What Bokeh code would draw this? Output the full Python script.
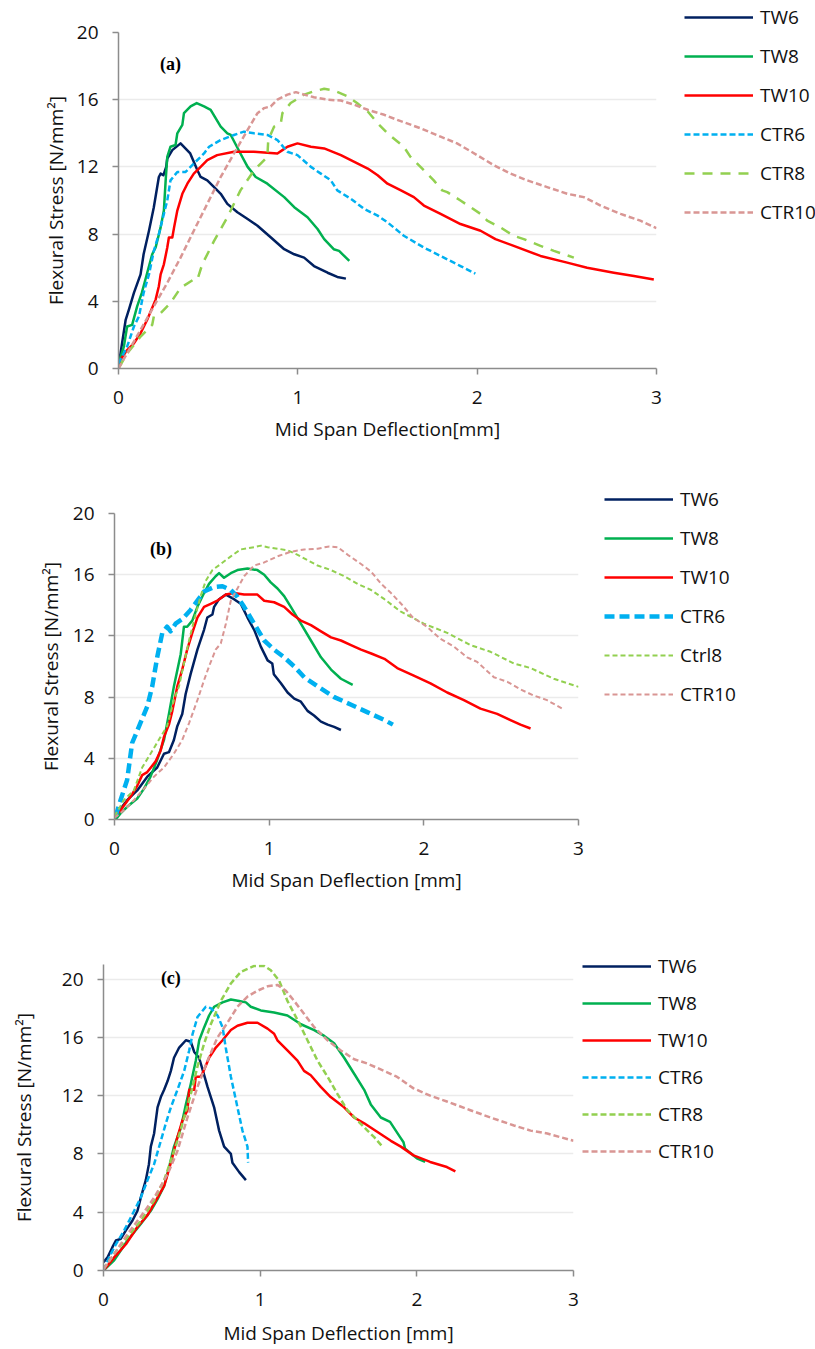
from bokeh.plotting import figure
from bokeh.models import Range1d, Legend, LegendItem, Label, FixedTicker
from bokeh.embed import file_html
from bokeh.resources import INLINE

# ---------------- Panel (a) ----------------
a_tw6_x = [0, 0.004, 0.04, 0.058, 0.086, 0.123, 0.14, 0.17, 0.197, 0.225, 0.235, 0.25, 0.266, 0.272, 0.30, 0.346, 0.40, 0.44, 0.458, 0.495, 0.533, 0.57, 0.607, 0.663, 0.72, 0.775, 0.85, 0.924, 0.98, 1.035, 1.09, 1.166, 1.22, 1.268]
a_tw6_y = [0.3, 0.4, 2.9, 3.5, 4.5, 5.6, 6.8, 8.2, 9.6, 11.4, 11.6, 11.5, 12.0, 12.5, 13.0, 13.4, 12.8, 11.8, 11.4, 11.2, 10.8, 10.4, 9.8, 9.3, 8.9, 8.5, 7.8, 7.1, 6.8, 6.6, 6.1, 5.7, 5.45, 5.35]
a_tw8_x = [0, 0.03, 0.048, 0.076, 0.104, 0.13, 0.15, 0.188, 0.207, 0.235, 0.253, 0.263, 0.272, 0.29, 0.318, 0.328, 0.356, 0.365, 0.402, 0.436, 0.477, 0.514, 0.57, 0.607, 0.626, 0.68, 0.72, 0.765, 0.83, 0.924, 0.98, 1.054, 1.11, 1.147, 1.20, 1.23, 1.287]
a_tw8_y = [0.3, 1.3, 2.5, 2.6, 3.7, 4.5, 5.3, 6.8, 7.2, 8.4, 9.4, 11.2, 12.6, 13.2, 13.3, 14.0, 14.5, 15.2, 15.6, 15.8, 15.6, 15.4, 14.4, 14.0, 13.9, 12.8, 12.0, 11.4, 11.0, 10.2, 9.6, 9.0, 8.3, 7.7, 7.1, 7.0, 6.4]
a_tw10_x = [0, 0.01, 0.048, 0.086, 0.123, 0.16, 0.207, 0.225, 0.235, 0.253, 0.272, 0.281, 0.30, 0.31, 0.328, 0.356, 0.384, 0.42, 0.458, 0.495, 0.55, 0.644, 0.756, 0.886, 0.914, 0.942, 0.998, 1.073, 1.147, 1.24, 1.315, 1.39, 1.445, 1.50, 1.575, 1.647, 1.703, 1.796, 1.907, 2.019, 2.102, 2.204, 2.353, 2.502, 2.613, 2.762, 2.874, 2.985]
a_tw10_y = [0, 0.5, 1.1, 1.5, 2.1, 2.9, 4.1, 4.9, 5.6, 6.2, 7.2, 7.8, 7.8, 8.4, 9.4, 10.4, 11.0, 11.6, 12.0, 12.4, 12.7, 12.9, 12.9, 12.8, 13.0, 13.2, 13.4, 13.2, 13.1, 12.7, 12.3, 11.9, 11.5, 11.0, 10.6, 10.2, 9.7, 9.2, 8.6, 8.2, 7.7, 7.3, 6.7, 6.3, 6.0, 5.7, 5.5, 5.3]
a_ctr6_x = [0, 0.048, 0.086, 0.114, 0.14, 0.17, 0.197, 0.225, 0.253, 0.272, 0.29, 0.328, 0.374, 0.42, 0.477, 0.505, 0.57, 0.644, 0.70, 0.756, 0.83, 0.886, 0.942, 0.998, 1.073, 1.128, 1.184, 1.22, 1.296, 1.37, 1.445, 1.50, 1.591, 1.703, 1.833, 1.907, 1.99]
a_ctr6_y = [0.3, 1.3, 2.5, 3.1, 4.5, 5.6, 7.0, 8.0, 9.2, 10.0, 11.2, 11.7, 11.7, 12.2, 12.8, 13.2, 13.6, 13.9, 14.1, 14.0, 13.9, 13.6, 12.9, 12.7, 12.0, 11.6, 11.2, 10.6, 10.1, 9.5, 9.1, 8.7, 7.9, 7.2, 6.5, 6.1, 5.65]
a_ctr8_x = [0, 0.048, 0.123, 0.188, 0.197, 0.235, 0.29, 0.346, 0.42, 0.44, 0.467, 0.533, 0.607, 0.68, 0.756, 0.793, 0.83, 0.835, 0.868, 0.905, 0.914, 0.96, 1.035, 1.09, 1.147, 1.20, 1.278, 1.33, 1.39, 1.445, 1.50, 1.557, 1.591, 1.628, 1.684, 1.758, 1.805, 1.833, 1.907, 2.019, 2.056, 2.13, 2.204, 2.26, 2.353, 2.428, 2.539]
a_ctr8_y = [0, 0.9, 1.9, 2.6, 3.1, 3.3, 3.9, 4.8, 5.3, 5.3, 6.2, 7.6, 9.0, 10.6, 11.8, 12.2, 12.6, 13.6, 14.4, 14.6, 15.2, 15.8, 16.3, 16.5, 16.65, 16.55, 16.2, 15.8, 15.3, 14.6, 14.0, 13.5, 13.2, 12.6, 12.0, 11.2, 10.6, 10.5, 10.0, 9.2, 8.8, 8.4, 7.9, 7.7, 7.3, 7.0, 6.6]
a_ctr10_x = [0, 0.048, 0.123, 0.197, 0.272, 0.346, 0.42, 0.495, 0.57, 0.644, 0.72, 0.775, 0.812, 0.849, 0.886, 0.942, 0.989, 1.035, 1.09, 1.166, 1.24, 1.315, 1.39, 1.482, 1.554, 1.684, 1.796, 1.888, 2.0, 2.093, 2.186, 2.279, 2.39, 2.502, 2.595, 2.688, 2.8, 2.91, 3.0]
a_ctr10_y = [0, 0.9, 2.3, 3.7, 5.1, 6.6, 8.2, 9.8, 11.4, 12.8, 14.2, 15.2, 15.5, 15.6, 16.0, 16.3, 16.45, 16.3, 16.15, 16.0, 15.95, 15.7, 15.4, 15.1, 14.8, 14.3, 13.8, 13.4, 12.7, 12.1, 11.6, 11.2, 10.8, 10.4, 10.2, 9.7, 9.2, 8.8, 8.35]

# ---------------- Panel (b) ----------------
b_tw6_x = [0, 0.039, 0.082, 0.147, 0.212, 0.276, 0.32, 0.352, 0.384, 0.406, 0.438, 0.46, 0.492, 0.536, 0.579, 0.60, 0.633, 0.644, 0.676, 0.72, 0.773, 0.816, 0.86, 0.903, 0.946, 0.99, 1.02, 1.03, 1.076, 1.119, 1.162, 1.205, 1.248, 1.29, 1.335, 1.378, 1.42, 1.464]
b_tw6_y = [0.1, 0.7, 1.26, 1.9, 2.8, 3.4, 4.3, 4.4, 5.2, 6.1, 6.9, 8.2, 9.5, 11.1, 12.4, 13.2, 13.4, 13.9, 14.4, 14.7, 14.4, 14.1, 13.2, 12.4, 11.3, 10.4, 10.2, 9.5, 8.9, 8.3, 7.9, 7.7, 7.1, 6.8, 6.4, 6.2, 6.05, 5.85]
b_tw8_x = [0.007, 0.039, 0.082, 0.147, 0.19, 0.233, 0.276, 0.32, 0.352, 0.384, 0.428, 0.449, 0.47, 0.503, 0.536, 0.579, 0.611, 0.654, 0.676, 0.708, 0.752, 0.795, 0.86, 0.924, 0.968, 1.01, 1.054, 1.097, 1.14, 1.205, 1.27, 1.335, 1.40, 1.464, 1.54]
b_tw8_y = [0, 0.4, 0.83, 1.37, 2.0, 2.8, 3.9, 5.2, 6.9, 8.7, 10.8, 12.6, 12.6, 13.0, 13.9, 14.8, 15.4, 15.9, 16.1, 15.8, 16.1, 16.3, 16.4, 16.3, 16.0, 15.5, 15.1, 14.6, 13.9, 12.8, 11.7, 10.6, 9.8, 9.2, 8.8]
b_tw10_x = [0, 0.039, 0.104, 0.147, 0.179, 0.212, 0.266, 0.298, 0.32, 0.352, 0.374, 0.406, 0.438, 0.47, 0.503, 0.536, 0.579, 0.622, 0.665, 0.72, 0.773, 0.838, 0.924, 0.968, 1.032, 1.097, 1.151, 1.205, 1.27, 1.335, 1.40, 1.464, 1.529, 1.594, 1.66, 1.745, 1.828, 1.935, 2.043, 2.151, 2.259, 2.366, 2.474, 2.56, 2.625, 2.69]
b_tw10_y = [0.2, 0.6, 1.5, 2.2, 2.9, 3.1, 3.8, 4.5, 5.4, 6.2, 7.1, 8.7, 9.8, 11.1, 12.2, 13.2, 13.9, 14.1, 14.3, 14.7, 14.8, 14.7, 14.7, 14.3, 14.2, 13.9, 13.4, 13.0, 12.7, 12.3, 11.9, 11.7, 11.4, 11.1, 10.85, 10.5, 9.9, 9.4, 8.9, 8.3, 7.8, 7.25, 6.9, 6.5, 6.2, 5.95]
b_ctr6_x = [0.007, 0.039, 0.082, 0.114, 0.147, 0.212, 0.244, 0.276, 0.309, 0.34, 0.363, 0.395, 0.438, 0.492, 0.536, 0.579, 0.644, 0.698, 0.752, 0.795, 0.838, 0.903, 0.968, 1.032, 1.097, 1.162, 1.227, 1.313, 1.421, 1.53, 1.637, 1.745, 1.80]
b_ctr6_y = [0.2, 1.26, 2.6, 5.0, 5.8, 7.4, 8.7, 10.6, 12.2, 12.6, 12.3, 12.8, 13.1, 13.7, 14.3, 14.9, 15.2, 15.25, 15.0, 14.55, 13.9, 12.8, 11.7, 11.1, 10.6, 10.0, 9.3, 8.7, 8.0, 7.5, 7.0, 6.5, 6.2]
b_ctrl8_x = [0, 0.06, 0.125, 0.179, 0.233, 0.298, 0.34, 0.384, 0.417, 0.449, 0.482, 0.514, 0.557, 0.59, 0.633, 0.687, 0.752, 0.816, 0.903, 0.946, 0.99, 1.054, 1.119, 1.184, 1.248, 1.313, 1.40, 1.486, 1.572, 1.659, 1.745, 1.849, 2.0, 2.151, 2.302, 2.431, 2.582, 2.69, 2.84, 3.0]
b_ctrl8_y = [0.2, 1.26, 1.9, 3.4, 4.3, 5.4, 6.1, 7.8, 8.7, 10.2, 11.7, 13.0, 14.6, 15.6, 16.3, 16.7, 17.2, 17.65, 17.8, 17.9, 17.8, 17.7, 17.6, 17.3, 16.95, 16.6, 16.3, 15.9, 15.4, 15.0, 14.4, 13.6, 12.8, 12.2, 11.4, 10.96, 10.2, 9.9, 9.2, 8.67]
b_ctr10_x = [0, 0.06, 0.125, 0.19, 0.255, 0.32, 0.384, 0.438, 0.482, 0.536, 0.579, 0.611, 0.654, 0.687, 0.72, 0.752, 0.795, 0.838, 0.903, 0.968, 1.054, 1.14, 1.227, 1.313, 1.389, 1.443, 1.508, 1.594, 1.659, 1.724, 1.788, 1.853, 1.93, 2.02, 2.108, 2.194, 2.28, 2.345, 2.453, 2.54, 2.625, 2.711, 2.797, 2.894]
b_ctr10_y = [0.1, 0.6, 1.26, 2.0, 2.8, 3.4, 4.3, 5.2, 6.3, 7.8, 9.1, 10.0, 11.1, 11.5, 12.8, 14.3, 15.1, 15.9, 16.6, 16.8, 17.2, 17.5, 17.65, 17.7, 17.85, 17.8, 17.3, 16.7, 16.2, 15.4, 14.8, 14.1, 13.2, 12.6, 11.8, 11.3, 10.6, 10.3, 9.3, 9.0, 8.5, 8.1, 7.8, 7.25]

# ---------------- Panel (c) ----------------
c_tw6_x = [0, 0.026, 0.057, 0.079, 0.11, 0.143, 0.185, 0.217, 0.238, 0.27, 0.29, 0.302, 0.323, 0.334, 0.345, 0.366, 0.387, 0.409, 0.43, 0.45, 0.483, 0.526, 0.557, 0.579, 0.61, 0.632, 0.664, 0.706, 0.738, 0.77, 0.813, 0.823, 0.866, 0.909]
c_tw6_y = [0.57, 0.9, 1.6, 2.06, 2.17, 2.75, 3.43, 4.1, 5.0, 6.2, 7.3, 8.5, 9.4, 10.3, 11.2, 11.9, 12.4, 13.0, 13.7, 14.6, 15.3, 15.8, 15.7, 15.0, 14.6, 13.8, 12.6, 11.2, 9.6, 8.5, 8.0, 7.4, 6.75, 6.2]
c_tw8_x = [0, 0.068, 0.153, 0.238, 0.302, 0.345, 0.387, 0.419, 0.45, 0.494, 0.526, 0.557, 0.589, 0.611, 0.643, 0.674, 0.706, 0.76, 0.813, 0.866, 0.909, 0.94, 1.004, 1.089, 1.174, 1.26, 1.345, 1.409, 1.472, 1.536, 1.6, 1.664, 1.706, 1.77, 1.829, 1.893, 1.915, 1.925, 2.0, 2.053]
c_tw8_y = [0, 0.7, 2.06, 3.2, 4.1, 4.9, 5.8, 7.1, 8.5, 9.8, 11.4, 12.8, 14.4, 15.8, 16.7, 17.5, 18.1, 18.4, 18.6, 18.5, 18.4, 18.1, 17.85, 17.7, 17.5, 16.9, 16.5, 16.1, 15.6, 14.6, 13.5, 12.4, 11.4, 10.5, 10.2, 9.15, 8.8, 8.35, 7.7, 7.45]
c_tw10_x = [0, 0.068, 0.143, 0.217, 0.281, 0.345, 0.387, 0.409, 0.44, 0.472, 0.504, 0.536, 0.547, 0.579, 0.589, 0.621, 0.643, 0.674, 0.717, 0.76, 0.813, 0.855, 0.919, 0.983, 1.047, 1.089, 1.11, 1.174, 1.238, 1.28, 1.323, 1.387, 1.45, 1.536, 1.6, 1.664, 1.749, 1.834, 1.898, 1.979, 2.085, 2.192, 2.246]
c_tw10_y = [0, 0.9, 1.8, 3.0, 3.8, 5.0, 5.8, 6.6, 7.8, 9.15, 10.3, 11.0, 12.4, 12.4, 13.3, 13.3, 13.8, 14.6, 15.3, 15.8, 16.5, 16.8, 17.0, 17.0, 16.6, 16.25, 15.8, 15.1, 14.4, 13.7, 13.4, 12.6, 11.9, 11.2, 10.5, 10.1, 9.5, 8.9, 8.5, 7.9, 7.45, 7.1, 6.8]
c_ctr6_x = [0, 0.036, 0.079, 0.132, 0.196, 0.238, 0.281, 0.323, 0.366, 0.398, 0.43, 0.472, 0.515, 0.547, 0.568, 0.6, 0.653, 0.685, 0.728, 0.76, 0.78, 0.813, 0.855, 0.887, 0.919, 0.923]
c_ctr6_y = [0, 0.9, 1.8, 2.75, 4.1, 5.0, 6.2, 7.3, 8.9, 10.1, 11.2, 12.4, 13.7, 15.1, 16.2, 17.4, 18.1, 18.0, 17.5, 16.7, 15.3, 13.3, 11.2, 9.6, 8.5, 7.4]
c_ctr8_x = [0, 0.068, 0.153, 0.238, 0.323, 0.387, 0.43, 0.472, 0.515, 0.557, 0.6, 0.643, 0.685, 0.749, 0.813, 0.877, 0.962, 1.026, 1.068, 1.121, 1.174, 1.238, 1.302, 1.366, 1.43, 1.494, 1.557, 1.621, 1.685, 1.728, 1.781]
c_ctr8_y = [0.1, 1.14, 2.3, 3.4, 4.8, 6.2, 7.55, 8.9, 10.5, 12.1, 14.0, 15.6, 16.9, 18.5, 19.7, 20.5, 20.9, 20.9, 20.6, 19.9, 18.5, 17.2, 15.8, 14.4, 13.3, 12.1, 11.0, 10.3, 9.6, 9.15, 8.5]
c_ctr10_x = [0, 0.068, 0.153, 0.238, 0.323, 0.409, 0.472, 0.536, 0.6, 0.664, 0.728, 0.791, 0.855, 0.919, 0.983, 1.047, 1.11, 1.164, 1.217, 1.281, 1.345, 1.43, 1.515, 1.6, 1.685, 1.79, 1.872, 1.979, 2.085, 2.192, 2.342, 2.47, 2.62, 2.726, 2.833, 3.0]
c_ctr10_y = [0.1, 1.14, 2.5, 3.7, 5.0, 6.6, 8.2, 10.5, 12.6, 14.4, 16.0, 17.0, 18.1, 18.8, 19.2, 19.5, 19.6, 19.2, 18.5, 17.6, 16.7, 15.8, 15.1, 14.5, 14.2, 13.7, 13.3, 12.5, 12.0, 11.6, 11.0, 10.5, 9.95, 9.6, 9.4, 8.9]

x_ticks = [0, 1, 2, 3]
y_ticks = [0, 4, 8, 12, 16, 20]
y_label = "Flexural Stress [N/mm\u00b2]"

FONT = "Open Sans"
FS = "19px"
AXIS_COLOR = "#8c8c8c"
TEXT_COLOR = "#111111"

C_TW6, C_TW8, C_TW10 = "#002060", "#00B050", "#FF0000"
C_CTR6, C_CTR8, C_CTR10 = "#00B0F0", "#92D050", "#D99694"


def make_panel(series, tag, tag_xy, xlabel, ymax, frame_w, frame_h, borders,
               leg_loc, leg_spacing, ylab_standoff, xlab_standoff):
    left, right, top, bottom = borders
    p = figure(frame_width=frame_w, frame_height=frame_h,
               min_border_left=left, min_border_right=right,
               min_border_top=top, min_border_bottom=bottom,
               x_range=Range1d(0, 3), y_range=Range1d(0, ymax),
               output_backend="svg", toolbar_location=None)
    p.outline_line_color = None
    p.background_fill_color = "white"
    p.border_fill_color = "white"
    p.xgrid.visible = False
    p.ygrid.grid_line_color = "#ebebeb"
    p.ygrid.grid_line_width = 1.5
    for ax in (p.xaxis[0], p.yaxis[0]):
        ax.axis_line_color = AXIS_COLOR
        ax.axis_line_width = 1.5
        ax.major_tick_line_color = AXIS_COLOR
        ax.major_tick_line_width = 1.5
        ax.major_tick_in = 0
        ax.major_tick_out = 6
        ax.minor_tick_line_color = None
        ax.major_label_text_font = FONT
        ax.major_label_text_font_size = FS
        ax.major_label_text_color = TEXT_COLOR
        ax.axis_label_text_font = FONT
        ax.axis_label_text_font_size = FS
        ax.axis_label_text_font_style = "normal"
        ax.axis_label_text_color = TEXT_COLOR
    p.xaxis.ticker = FixedTicker(ticks=x_ticks)
    p.yaxis.ticker = FixedTicker(ticks=y_ticks)
    p.xaxis.major_label_standoff = 16
    p.yaxis.major_label_standoff = 14
    p.xaxis.axis_label = xlabel
    p.yaxis.axis_label = y_label
    p.yaxis.axis_label_standoff = ylab_standoff
    p.xaxis.axis_label_standoff = xlab_standoff

    items = []
    for (name, xs, ys, color, dash, width) in series:
        r = p.line(xs, ys, line_color=color, line_width=width, line_dash=dash,
                   line_join="round")
        items.append(LegendItem(label=name, renderers=[r]))
    leg = Legend(items=items, location=leg_loc, orientation="vertical",
                 border_line_color=None, background_fill_alpha=0,
                 padding=0, margin=0, spacing=leg_spacing,
                 glyph_width=69, glyph_height=30, label_height=30,
                 label_standoff=7, label_text_font=FONT,
                 label_text_font_size=FS, label_text_color=TEXT_COLOR,
                 label_text_baseline="middle")
    p.add_layout(leg, "right")

    p.add_layout(Label(x=tag_xy[0], y=tag_xy[1], text=tag,
                       text_font="Liberation Serif", text_font_style="bold",
                       text_font_size="18px", text_align="center",
                       text_baseline="middle", text_color="#000000"))
    return p


pa = make_panel(
    [("TW6", a_tw6_x, a_tw6_y, C_TW6, "solid", 2.5),
     ("TW8", a_tw8_x, a_tw8_y, C_TW8, "solid", 2.5),
     ("TW10", a_tw10_x, a_tw10_y, C_TW10, "solid", 2.5),
     ("CTR6", a_ctr6_x, a_ctr6_y, C_CTR6, "6 3", 2.5),
     ("CTR8", a_ctr8_x, a_ctr8_y, C_CTR8, "10 8", 2.5),
     ("CTR10", a_ctr10_x, a_ctr10_y, C_CTR10, "6 3", 2.5)],
    "(a)", (0.29, 18.15), "Mid Span Deflection[mm]", 20, 538, 336,
    (118, 159, 32, 100), (28, 141), 9, 5, 9)

pb = make_panel(
    [("TW6", b_tw6_x, b_tw6_y, C_TW6, "solid", 2.5),
     ("TW8", b_tw8_x, b_tw8_y, C_TW8, "solid", 2.5),
     ("TW10", b_tw10_x, b_tw10_y, C_TW10, "solid", 2.5),
     ("CTR6", b_ctr6_x, b_ctr6_y, C_CTR6, "10 5", 4.5),
     ("Ctrl8", b_ctrl8_x, b_ctrl8_y, C_CTR8, "5 3", 2),
     ("CTR10", b_ctr10_x, b_ctr10_y, C_CTR10, "5 3", 2)],
    "(b)", (0.30, 17.7), "Mid Span Deflection [mm]", 20, 464, 306,
    (114, 237, 45, 101), (26, 110), 9, 6, 9)

pc = make_panel(
    [("TW6", c_tw6_x, c_tw6_y, C_TW6, "solid", 2.5),
     ("TW8", c_tw8_x, c_tw8_y, C_TW8, "solid", 2.5),
     ("TW10", c_tw10_x, c_tw10_y, C_TW10, "solid", 2.5),
     ("CTR6", c_ctr6_x, c_ctr6_y, C_CTR6, "6 3", 2.5),
     ("CTR8", c_ctr8_x, c_ctr8_y, C_CTR8, "6 3", 2.5),
     ("CTR10", c_ctr10_x, c_ctr10_y, C_CTR10, "6 3", 2.5)],
    "(c)", (0.43, 20.06), "Mid Span Deflection [mm]", 21, 470, 306,
    (103, 242, 44, 79), (9, 104), 7, 22, 11)

open("out.html", "w").write(file_html([pa, pb, pc], INLINE))
